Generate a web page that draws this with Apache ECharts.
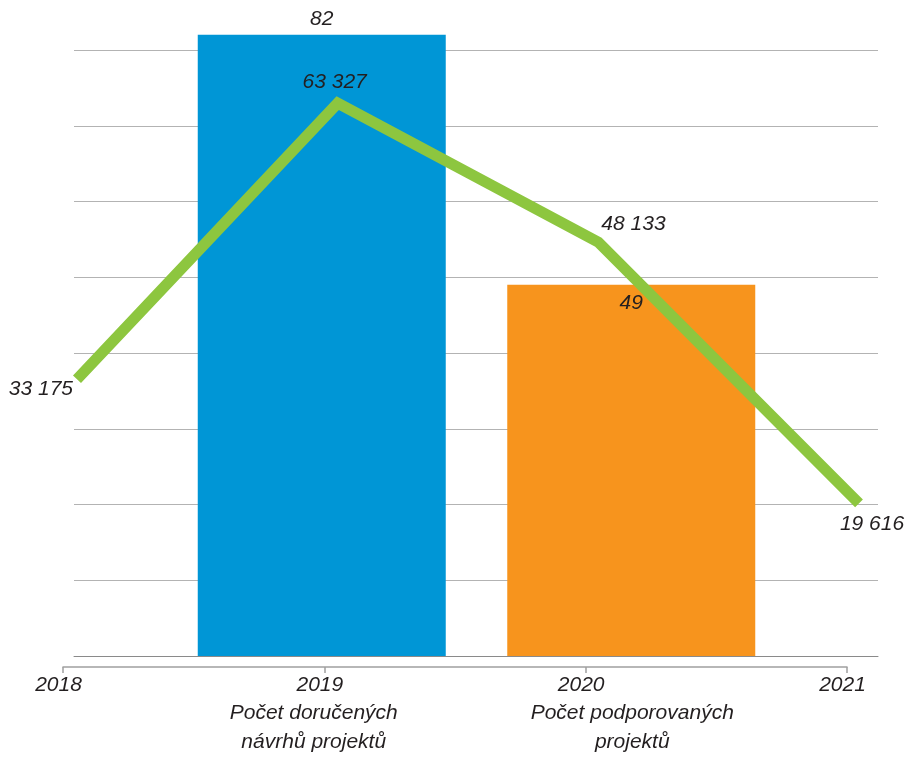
<!DOCTYPE html>
<html>
<head>
<meta charset="utf-8">
<script src="https://cdn.jsdelivr.net/npm/echarts@6/dist/echarts.min.js"></script>
<style>
  html, body { margin: 0; padding: 0; background: #fff; }
  #chart { width: 910px; height: 758px; }
</style>
</head>
<body>
<div id="chart"></div>
<script>
// data
const years = ['2018', '2019', '2020', '2021']
const visitors = [33175, 63327, 48133, 19616]
const barCats = ['Počet doručených\nnávrhů projektů', 'Počet podporovaných\nprojektů']
const barValues = [82, 49]
const barColors = ['#0096d6', '#f7941d']

const font = {
  fontFamily: 'Liberation Sans',
  fontStyle: 'italic',
  fontSize: 21,
  color: '#231f20'
}
// kde stoji popisek u kazdeho bodu cary
const lineLabelPos = [
  { position: 'left', distance: 4, offset: [0, 10] },
  { position: 'top', distance: 10, offset: [-3, 0] },
  { position: 'right', distance: 3, offset: [0, -18] },
  { position: 'bottom', distance: 10, offset: [13, 0] }
]
const barLabelPos = [
  { position: 'top', distance: 5 },
  { position: 'insideTop', distance: 8 }
]
// posun popisku kategorii pod sloupci
const barCatPad = [[0, 16, 0, 0], [0, 0, 0, 2]]

const fmt = v => String(v).replace(/\B(?=(\d{3})+(?!\d))/g, ' ')

const chart = echarts.init(document.getElementById('chart'))

const option = {
  animation: false,
  grid: [
    // mrizka s vodorovnymi carami
    { left: 74, top: 50, width: 804, height: 606 },
    // sloupce
    { left: 167, top: 50, width: 619, height: 606 },
    // osa s roky
    { left: 63, top: 50, width: 784, height: 617 },
    // cara
    { left: 77, top: 42, width: 782, height: 641 }
  ],
  xAxis: [
    {
      gridIndex: 0, type: 'value', min: 0, max: 1,
      axisLine: { show: true, onZero: false, lineStyle: { color: '#8a8a8a', width: 1 } },
      axisTick: { show: false }, axisLabel: { show: false }, splitLine: { show: false }
    },
    {
      gridIndex: 1, type: 'category',
      data: barCats.map((c, i) => ({ value: c, textStyle: { padding: barCatPad[i] } })),
      axisLine: { show: false }, axisTick: { show: false },
      axisLabel: Object.assign({ margin: 43, lineHeight: 29 }, font)
    },
    {
      gridIndex: 2, type: 'category', data: years, boundaryGap: false,
      axisLine: { show: true, lineStyle: { color: '#a0a0a0', width: 1.5 } },
      axisTick: { show: true, length: 6, lineStyle: { color: '#a0a0a0', width: 1.5 } },
      axisLabel: Object.assign({ margin: 8, padding: [0, 9, 0, 0] }, font)
    },
    {
      gridIndex: 3, type: 'category', data: years, boundaryGap: false, show: false
    }
  ],
  yAxis: [
    {
      gridIndex: 0, type: 'value', min: 0, max: 80, interval: 10,
      axisLine: { show: false }, axisTick: { show: false }, axisLabel: { show: false },
      splitLine: { show: true, lineStyle: { color: '#b3b3b3', width: 1 } }
    },
    { gridIndex: 1, type: 'value', min: 0, max: 80, show: false, splitLine: { show: false } },
    { gridIndex: 2, type: 'value', min: 0, max: 1, show: false, splitLine: { show: false } },
    { gridIndex: 3, type: 'value', min: 0, max: 70000, show: false, splitLine: { show: false } }
  ],
  series: [
    {
      type: 'bar',
      xAxisIndex: 1,
      yAxisIndex: 1,
      barWidth: 248,
      clip: false,
      z: 2,
      data: barValues.map((v, i) => ({
        value: v,
        itemStyle: { color: barColors[i] },
        label: Object.assign({ show: true }, barLabelPos[i])
      })),
      label: Object.assign({ show: true }, font)
    },
    {
      type: 'line',
      xAxisIndex: 3,
      yAxisIndex: 3,
      z: 5,
      showSymbol: true,
      symbolSize: 0,
      lineStyle: { color: '#8dc63f', width: 11, cap: 'butt', join: 'miter' },
      itemStyle: { color: '#8dc63f' },
      data: visitors.map((v, i) => ({
        value: v,
        label: Object.assign({ show: true }, lineLabelPos[i])
      })),
      label: Object.assign({ show: true, formatter: p => fmt(p.value) }, font)
    }
  ]
}

chart.setOption(option)
</script>
</body>
</html>
